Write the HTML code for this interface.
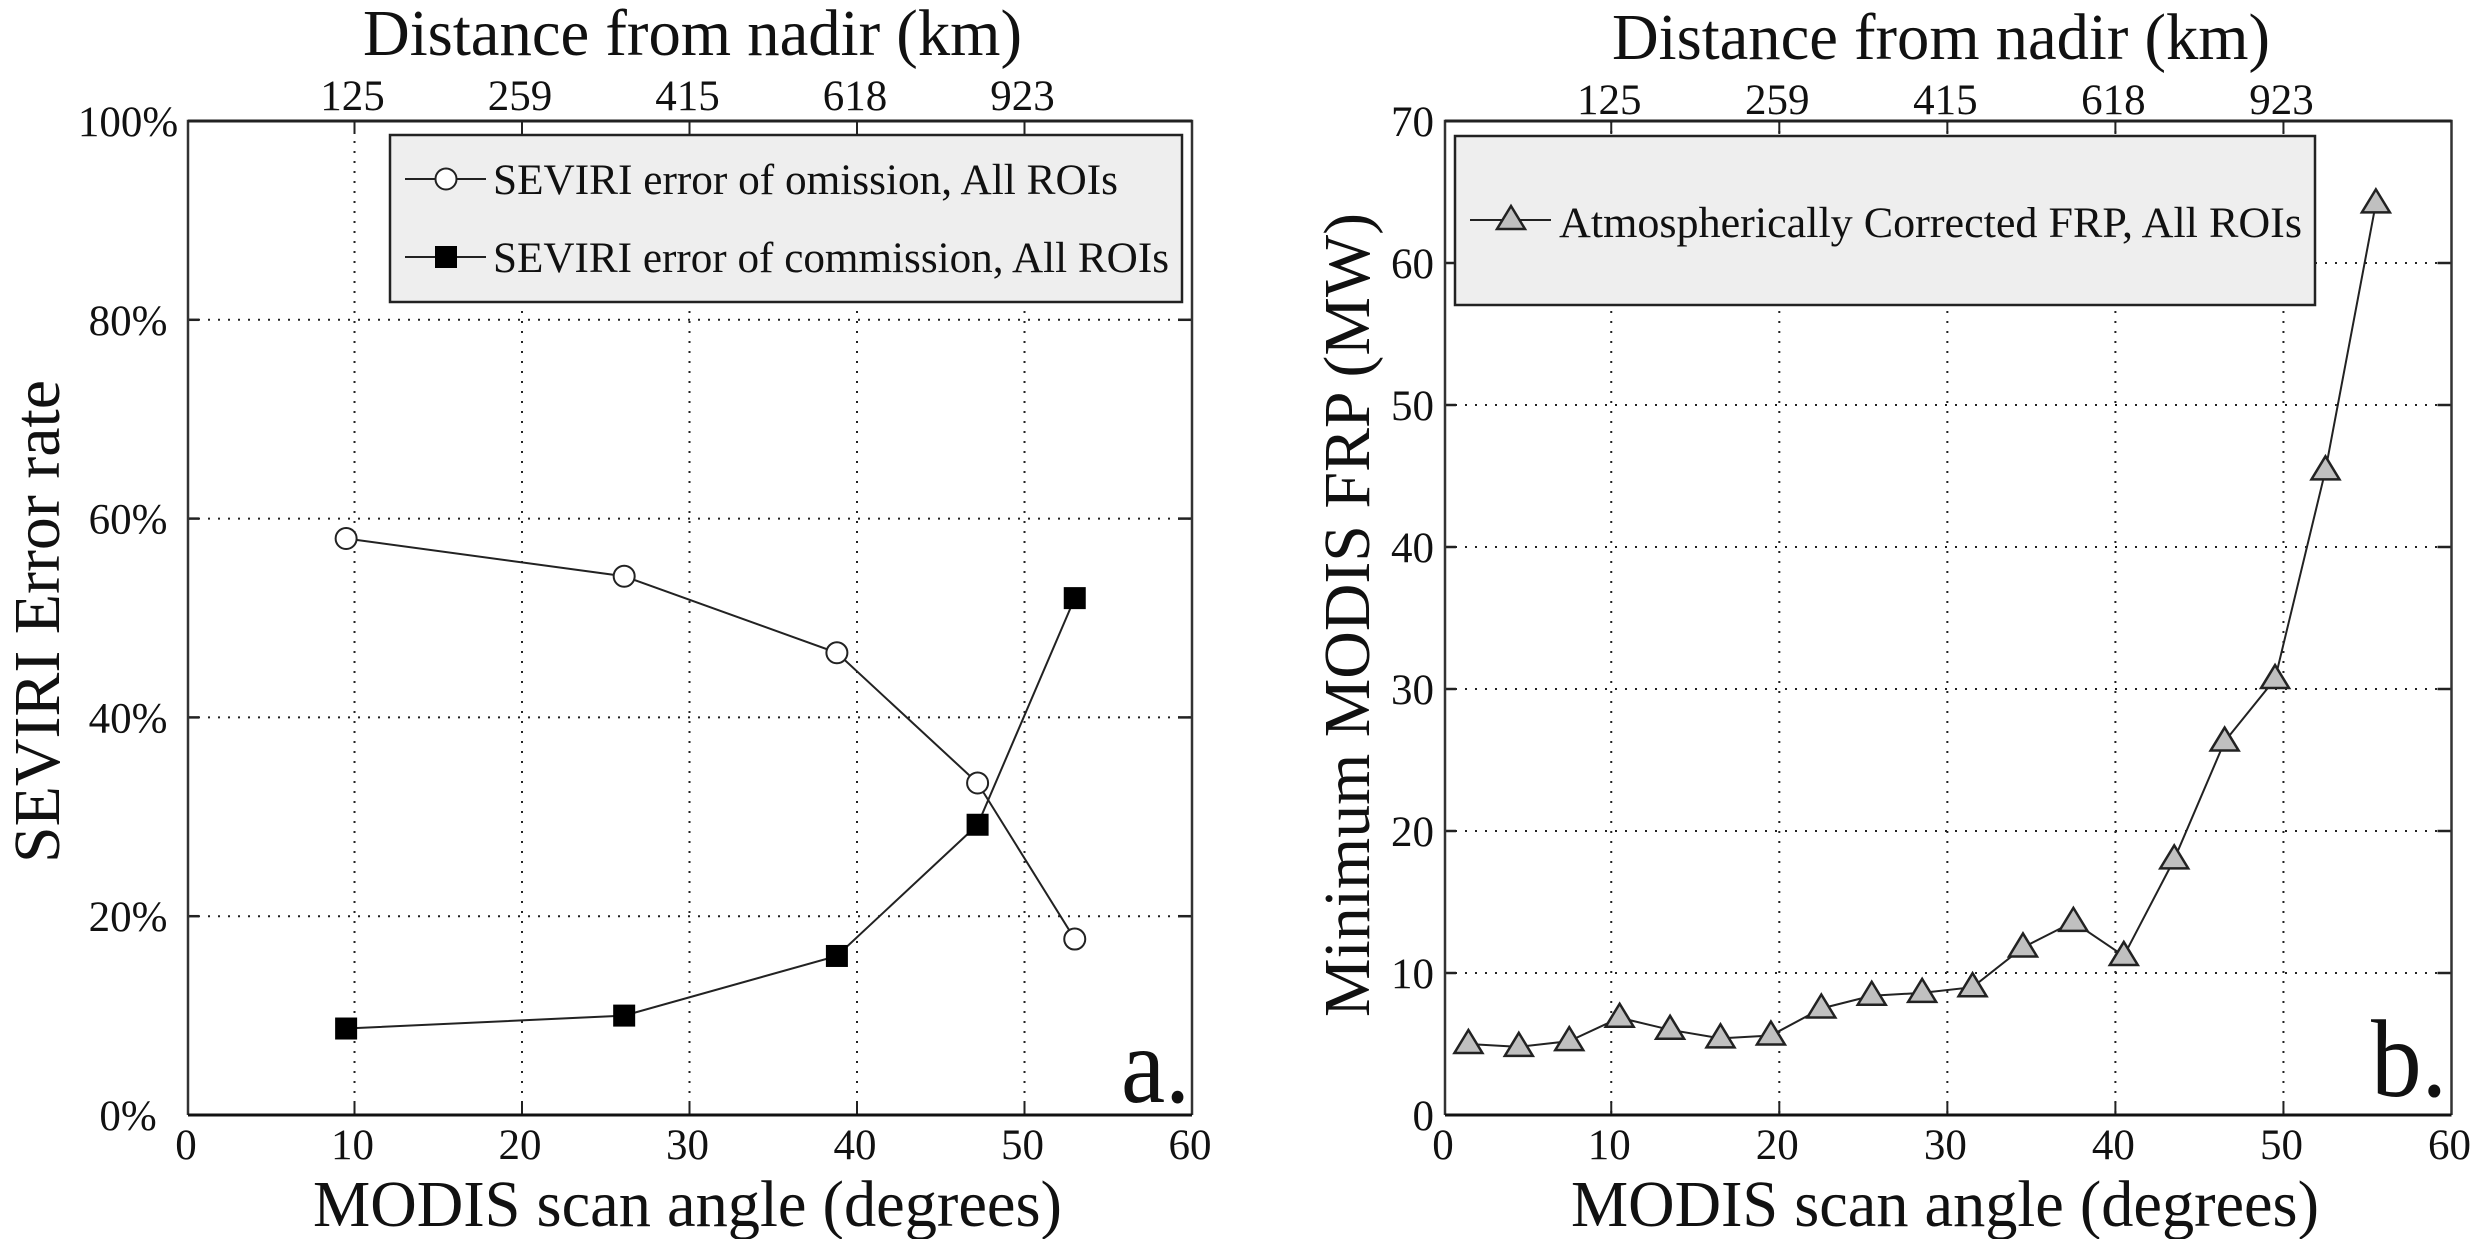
<!DOCTYPE html>
<html lang="en">
<head>
<meta charset="utf-8">
<title>SEVIRI error rate and minimum MODIS FRP versus scan angle</title>
<style>
html,body{margin:0;padding:0;background:#fff;}
svg{display:block;}
text{font-family:"Liberation Serif","Times New Roman",serif;fill:#111;}
</style>
</head>
<body>
<svg id="fig" xmlns="http://www.w3.org/2000/svg" width="2484" height="1239" viewBox="0 0 2484 1239">
  <g id="panel-a">
    <g id="a-grid"></g>
    <rect x="390" y="135" width="792" height="167" fill="#eeeeee" stroke="#222" stroke-width="2.5"/>
    <g id="a-frame"></g>
    <g id="a-series"></g>
    <g>
      <line x1="405" y1="179" x2="486" y2="179" stroke="#222" stroke-width="2"/>
      <circle cx="446" cy="179" r="10.5" fill="#fff" stroke="#222" stroke-width="2"/>
      <text x="493" y="194" font-size="43" textLength="625" lengthAdjust="spacingAndGlyphs">SEVIRI error of omission, All ROIs</text>
    </g>
    <g>
      <line x1="405" y1="257" x2="486" y2="257" stroke="#222" stroke-width="2"/>
      <rect x="435" y="246" width="22" height="22" fill="#000"/>
      <text x="493" y="272" font-size="43" textLength="676" lengthAdjust="spacingAndGlyphs">SEVIRI error of commission, All ROIs</text>
    </g>
    <text x="363" y="55" font-size="66" textLength="659" lengthAdjust="spacingAndGlyphs">Distance from nadir (km)</text>
    <text x="313" y="1226" font-size="66" textLength="749" lengthAdjust="spacingAndGlyphs">MODIS scan angle (degrees)</text>
    <text transform="translate(59 863) rotate(-90)" font-size="66" textLength="483" lengthAdjust="spacingAndGlyphs">SEVIRI Error rate</text>
    <text x="1121" y="1102" font-size="108" textLength="69" lengthAdjust="spacingAndGlyphs">a.</text>
  </g>
  <g id="panel-b">
    <g id="b-grid"></g>
    <rect x="1455" y="136" width="860" height="169" fill="#eeeeee" stroke="#222" stroke-width="2.5"/>
    <g id="b-frame"></g>
    <g id="b-series"></g>
    <g>
      <line x1="1470" y1="220" x2="1551" y2="220" stroke="#222" stroke-width="2"/>
      <polygon points="1511,206 1525,229 1497,229" fill="#c0c0c0" stroke="#222" stroke-width="2.5"/>
      <text x="1559" y="237" font-size="43" textLength="743" lengthAdjust="spacingAndGlyphs">Atmospherically Corrected FRP, All ROIs</text>
    </g>
    <text x="1612" y="59" font-size="66" textLength="658" lengthAdjust="spacingAndGlyphs">Distance from nadir (km)</text>
    <text x="1571" y="1226" font-size="66" textLength="748" lengthAdjust="spacingAndGlyphs">MODIS scan angle (degrees)</text>
    <text transform="translate(1369 1017) rotate(-90)" font-size="66" textLength="804" lengthAdjust="spacingAndGlyphs">Minimum MODIS FRP (MW)</text>
    <text x="2371" y="1096" font-size="110" textLength="76" lengthAdjust="spacingAndGlyphs">b.</text>
  </g>
</svg>
<script>
// Shared axis labels
const xTickValues = [0, 10, 20, 30, 40, 50, 60];
const topTickValues = [10, 20, 30, 40, 50];
const topTickLabels = ['125', '259', '415', '618', '923'];

// Panel a data
const aAngles = [9.5, 26.1, 38.8, 47.2, 53];
const aOmission = [58, 54.2, 46.5, 33.4, 17.7];
const aCommission = [8.7, 10, 16, 29.2, 52];
const aYTicks = [0, 20, 40, 60, 80, 100];

// Panel b data
const bAngles = [1.5, 4.5, 7.5, 10.5, 13.5, 16.5, 19.5, 22.5, 25.5, 28.5, 31.5, 34.5, 37.5, 40.5, 43.5, 46.5, 49.5, 52.5, 55.5];
const bFrp = [5, 4.8, 5.2, 6.85, 6, 5.4, 5.6, 7.5, 8.4, 8.6, 9, 11.8, 13.6, 11.2, 18, 26.3, 30.7, 45.4, 64.2];
const bYTicks = [0, 10, 20, 30, 40, 50, 60, 70];

const NS = 'http://www.w3.org/2000/svg';
function mk(parent, tag, attrs, txt) {
  const el = document.createElementNS(NS, tag);
  for (const k in attrs) el.setAttribute(k, attrs[k]);
  if (txt !== undefined) el.textContent = txt;
  parent.appendChild(el);
  return el;
}
function scale(d0, d1, r0, r1) {
  return function (v) { return r0 + (v - d0) * (r1 - r0) / (d1 - d0); };
}

function drawAxes(cfg) {
  const sx = cfg.sx, sy = cfg.sy;
  const L = cfg.frameLeft, R = sx(60), T = sy(cfg.yMax), B = sy(0);
  const grid = document.getElementById(cfg.gridId);
  const frame = document.getElementById(cfg.frameId);

  xTickValues.forEach(function (v) {
    if (v > 0 && v < 60) {
      const g = mk(grid, 'line', {x1: sx(v), x2: sx(v), y1: T, y2: B, stroke: '#222', 'stroke-width': 2, 'stroke-dasharray': '2 8'});
      
      
      const t1 = mk(frame, 'line', {x1: sx(v), x2: sx(v), y1: B, y2: B - 13, stroke: '#222', 'stroke-width': 2});
      
      
    }
    const lab = mk(frame, 'text', {x: (v === 0 ? L : sx(v)) - 2, y: 1159, 'font-size': 43, 'text-anchor': 'middle'}, String(v));
    
    
  });

  topTickValues.forEach(function (v, i) {
    const t = mk(frame, 'line', {x1: sx(v), x2: sx(v), y1: T, y2: T + 13, stroke: '#222', 'stroke-width': 2});
    
    
    const lab = mk(frame, 'text', {x: sx(v) - 2, y: cfg.topBase, 'font-size': 43, 'text-anchor': 'middle'}, topTickLabels[i]);
    
    
  });

  cfg.yTicks.forEach(function (v) {
    if (v > 0 && v < cfg.yMax) {
      const g = mk(grid, 'line', {x1: L, x2: R, y1: sy(v), y2: sy(v), stroke: '#222', 'stroke-width': 2, 'stroke-dasharray': '2 8'});
      
      
      const t1 = mk(frame, 'line', {x1: L, x2: L + 11, y1: sy(v), y2: sy(v), stroke: '#222', 'stroke-width': 2.5});
      
      
      const t2 = mk(frame, 'line', {x1: R, x2: R - 14, y1: sy(v), y2: sy(v), stroke: '#222', 'stroke-width': 2.5});
      
      
    }
    const lab = mk(frame, 'text', {x: cfg.yLabelX, y: sy(v) + 15, 'font-size': 43, 'text-anchor': cfg.yAnchor}, v + cfg.ySuffix);
    
    
  });

  const box = mk(frame, 'path', {d: 'M' + L + ' ' + B + 'V' + T + 'H' + R + 'V' + B, fill: 'none', stroke: '#333', 'stroke-width': 2.5});
  
  
  const top = mk(frame, 'line', {x1: L, x2: R, y1: T, y2: T, stroke: '#222', 'stroke-width': 3});
  
  
  const bot = mk(frame, 'line', {x1: L, x2: R, y1: B, y2: B, stroke: '#111', 'stroke-width': 3});
  
  
}

function polyPoints(xs, ys, sx, sy) {
  return xs.map(function (x, i) { return sx(x) + ',' + sy(ys[i]); }).join(' ');
}

// Panel a
const axA = scale(0, 60, 187, 1192);
const ayA = scale(0, 100, 1115, 121);
drawAxes({sx: axA, sy: ayA, yMax: 100, yTicks: aYTicks, ySuffix: '%', yLabelX: 128, yAnchor: 'middle', topBase: 110, gridId: 'a-grid', frameId: 'a-frame', frameLeft: 188});
const aSeries = document.getElementById('a-series');

const omissionLine = mk(aSeries, 'polyline', {points: polyPoints(aAngles, aOmission, axA, ayA), fill: 'none', stroke: '#222', 'stroke-width': 2});



const commissionLine = mk(aSeries, 'polyline', {points: polyPoints(aAngles, aCommission, axA, ayA), fill: 'none', stroke: '#222', 'stroke-width': 2});



aAngles.forEach(function (x, i) {
  const c = mk(aSeries, 'circle', {cx: axA(x), cy: ayA(aOmission[i]), r: 10.5, fill: '#fff', stroke: '#222', 'stroke-width': 2});
  
  
  const s = mk(aSeries, 'rect', {x: axA(x) - 11, y: ayA(aCommission[i]) - 11, width: 22, height: 22, fill: '#000'});
  
  
});

// Panel b
const axB = scale(0, 60, 1443.2, 2451.5);
const ayB = scale(0, 70, 1115, 121);
drawAxes({sx: axB, sy: ayB, yMax: 70, yTicks: bYTicks, ySuffix: '', yLabelX: 1434, yAnchor: 'end', topBase: 114, gridId: 'b-grid', frameId: 'b-frame', frameLeft: 1445});
const bSeries = document.getElementById('b-series');

const frpLine = mk(bSeries, 'polyline', {points: polyPoints(bAngles, bFrp, axB, ayB), fill: 'none', stroke: '#222', 'stroke-width': 2});



bAngles.forEach(function (x, i) {
  const cx = axB(x), cy = ayB(bFrp[i]);
  const tri = mk(bSeries, 'polygon', {points: cx + ',' + (cy - 14) + ' ' + (cx + 14) + ',' + (cy + 9) + ' ' + (cx - 14) + ',' + (cy + 9), fill: '#c0c0c0', stroke: '#222', 'stroke-width': 2.5});
  
  
});
</script>
</body>
</html>
